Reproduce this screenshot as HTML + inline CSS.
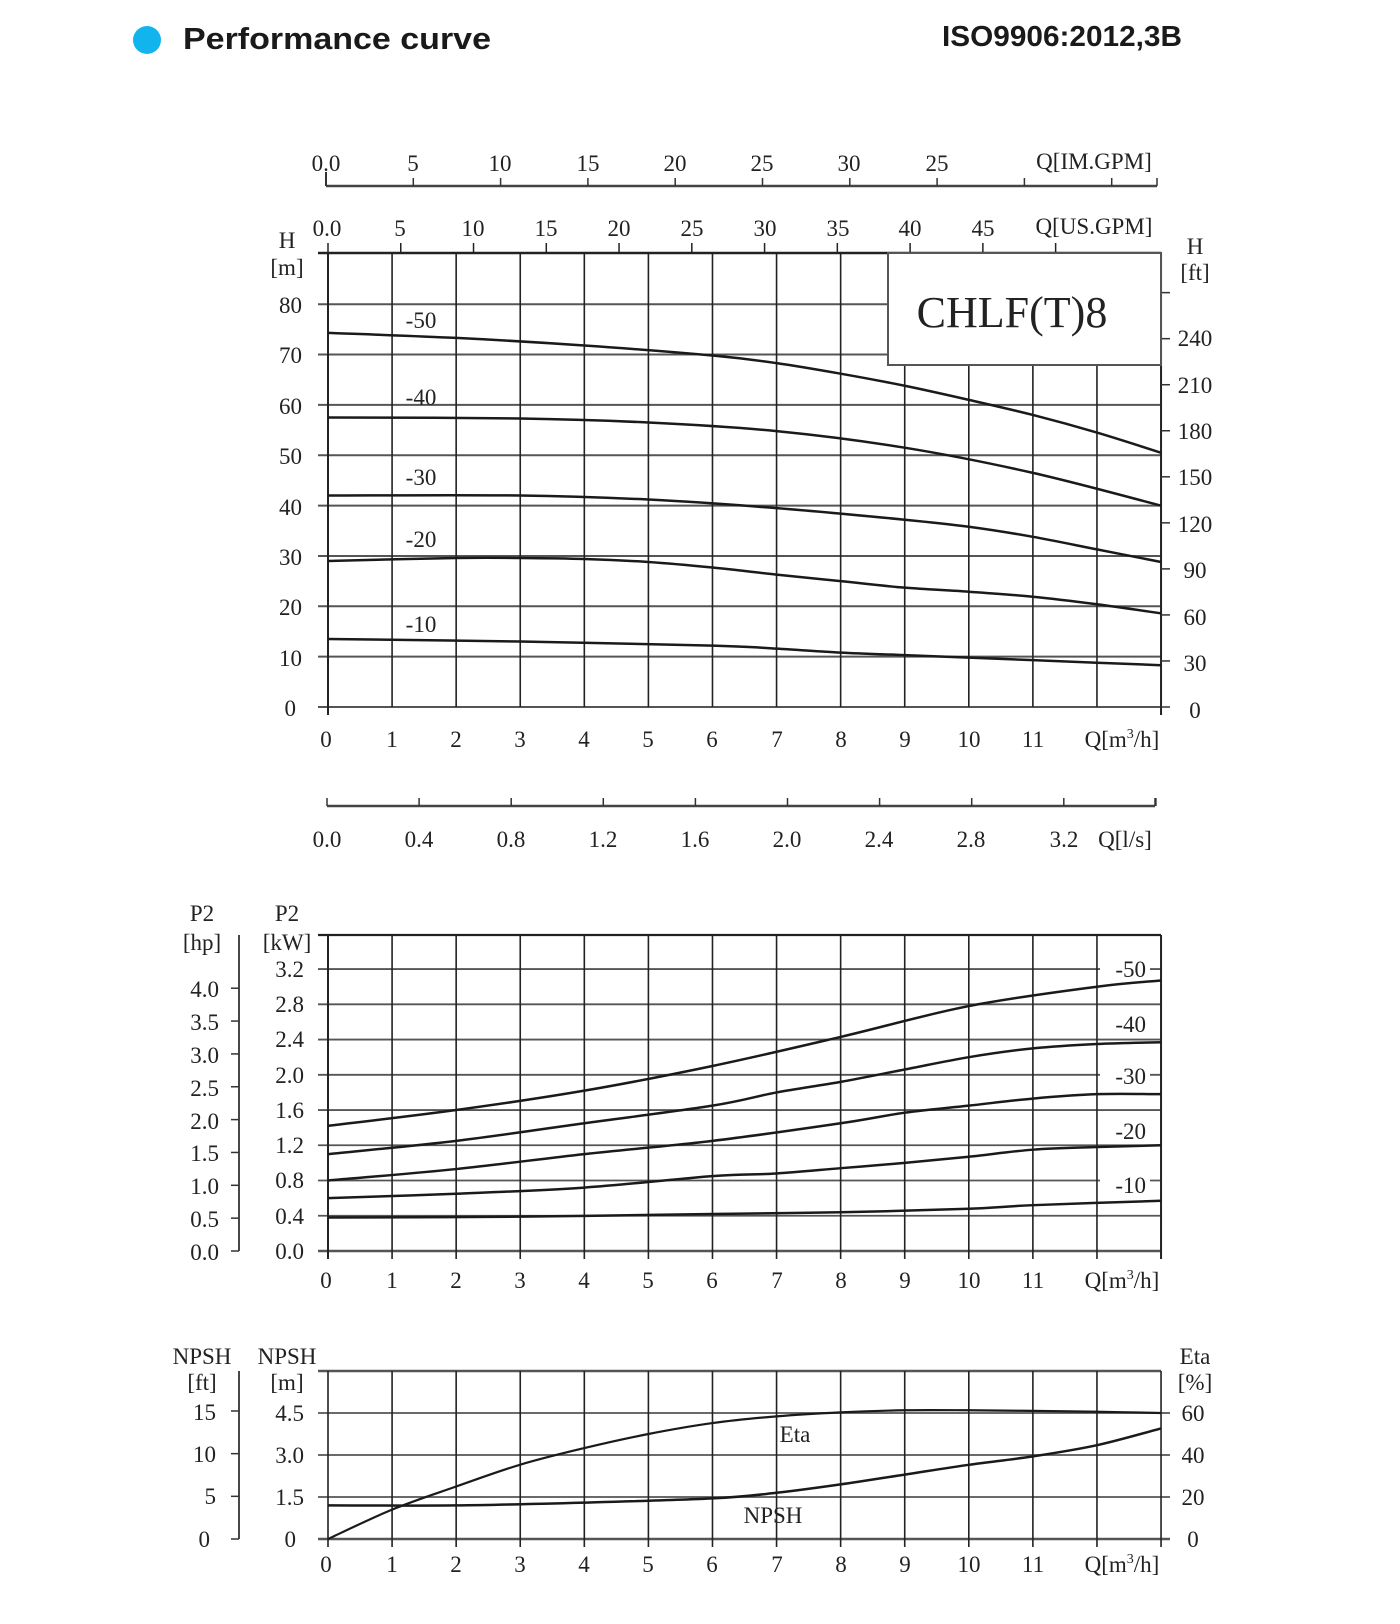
<!DOCTYPE html>
<html><head><meta charset="utf-8"><style>
html,body{margin:0;padding:0;background:#fff;}
svg{display:block;}
.t{font-family:"Liberation Serif",serif;font-size:23px;fill:#222;}
.h{font-family:"Liberation Sans",sans-serif;font-weight:bold;fill:#1a1a1a;}
</style></head><body>
<svg width="1400" height="1624" viewBox="0 0 1400 1624" xmlns="http://www.w3.org/2000/svg">
<circle cx="147" cy="40" r="14" fill="#12b4ee"/>
<text class="h" x="183" y="49" font-size="31" textLength="308" lengthAdjust="spacingAndGlyphs">Performance curve</text>
<text class="h" x="942" y="46" font-size="29" textLength="240" lengthAdjust="spacingAndGlyphs">ISO9906:2012,3B</text>

<g stroke="#444" stroke-width="2.5"><line x1="326" y1="186" x2="1157" y2="186"/></g>
<g id="imt" stroke="#333" stroke-width="1.5"></g>
<g class="t" text-anchor="middle">
<text x="326" y="171">0.0</text><text x="413" y="171">5</text><text x="500" y="171">10</text><text x="588" y="171">15</text><text x="675" y="171">20</text><text x="762" y="171">25</text><text x="849" y="171">30</text><text x="937" y="171">25</text><text x="1094" y="169">Q[IM.GPM]</text>
</g>
<g class="t" text-anchor="middle">
<text x="327" y="236">0.0</text><text x="400" y="236">5</text><text x="473" y="236">10</text><text x="546" y="236">15</text><text x="619" y="236">20</text><text x="692" y="236">25</text><text x="765" y="236">30</text><text x="838" y="236">35</text><text x="910" y="236">40</text><text x="983" y="236">45</text><text x="1094" y="234">Q[US.GPM]</text>
</g>
<g id="grid" ></g>
<rect x="888" y="253" width="273" height="112" fill="#fff" stroke="#555" stroke-width="2"/>
<text x="1012" y="327" text-anchor="middle" font-family="Liberation Serif,serif" font-size="44" fill="#222">CHLF(T)8</text>
<g id="curves" fill="none" stroke="#1a1a1a" stroke-width="2.5"></g>

<g class="t" text-anchor="middle"><text x="287" y="248">H</text><text x="287" y="275">[m]</text>
<text x="1195" y="254">H</text><text x="1195" y="280">[ft]</text></g>
<g class="t" text-anchor="end">
<text x="302" y="313">80</text><text x="302" y="363">70</text><text x="302" y="414">60</text><text x="302" y="464">50</text><text x="302" y="515">40</text><text x="302" y="565">30</text><text x="302" y="615">20</text><text x="302" y="666">10</text><text x="296" y="716">0</text>
</g>
<g class="t" text-anchor="middle">
<text x="1195" y="346">240</text><text x="1195" y="393">210</text><text x="1195" y="439">180</text><text x="1195" y="485">150</text><text x="1195" y="532">120</text><text x="1195" y="578">90</text><text x="1195" y="625">60</text><text x="1195" y="671">30</text><text x="1195" y="718">0</text>
</g>
<g class="t" text-anchor="middle">
<text x="421" y="328">-50</text><text x="421" y="405">-40</text><text x="421" y="485">-30</text><text x="421" y="547">-20</text><text x="421" y="632">-10</text>
</g>
<g class="t" text-anchor="middle">
<text x="326" y="747">0</text><text x="392" y="747">1</text><text x="456" y="747">2</text><text x="520" y="747">3</text><text x="584" y="747">4</text><text x="648" y="747">5</text><text x="712" y="747">6</text><text x="777" y="747">7</text><text x="841" y="747">8</text><text x="905" y="747">9</text><text x="969" y="747">10</text><text x="1033" y="747">11</text><text x="1122" y="747">Q[m<tspan font-size="14" dy="-9">3</tspan><tspan dy="9">/h]</tspan></text>
</g>
<line x1="327" y1="806" x2="1155" y2="806" stroke="#444" stroke-width="2.5"/>
<g id="lst" stroke="#333" stroke-width="1.5"></g>
<g class="t" text-anchor="middle">
<text x="327" y="847">0.0</text><text x="419" y="847">0.4</text><text x="511" y="847">0.8</text><text x="603" y="847">1.2</text><text x="695" y="847">1.6</text><text x="787" y="847">2.0</text><text x="879" y="847">2.4</text><text x="971" y="847">2.8</text><text x="1064" y="847">3.2</text><text x="1125" y="847">Q[l/s]</text>
</g>

<g class="t" text-anchor="middle"><text x="202" y="921">P2</text><text x="202" y="950">[hp]</text><text x="287" y="921">P2</text><text x="287" y="950">[kW]</text></g>
<g class="t" text-anchor="end">
<text x="304" y="977">3.2</text><text x="304" y="1012">2.8</text><text x="304" y="1047">2.4</text><text x="304" y="1083">2.0</text><text x="304" y="1118">1.6</text><text x="304" y="1153">1.2</text><text x="304" y="1188">0.8</text><text x="304" y="1224">0.4</text><text x="304" y="1259">0.0</text>
</g>
<g class="t" text-anchor="middle">
<text x="326" y="1288">0</text><text x="392" y="1288">1</text><text x="456" y="1288">2</text><text x="520" y="1288">3</text><text x="584" y="1288">4</text><text x="648" y="1288">5</text><text x="712" y="1288">6</text><text x="777" y="1288">7</text><text x="841" y="1288">8</text><text x="905" y="1288">9</text><text x="969" y="1288">10</text><text x="1033" y="1288">11</text><text x="1122" y="1288">Q[m<tspan font-size="14" dy="-9">3</tspan><tspan dy="9">/h]</tspan></text>
</g>
<g class="t" text-anchor="end">
<text x="219" y="997">4.0</text><text x="219" y="1030">3.5</text><text x="219" y="1063">3.0</text><text x="219" y="1096">2.5</text><text x="219" y="1129">2.0</text><text x="219" y="1161">1.5</text><text x="219" y="1194">1.0</text><text x="219" y="1227">0.5</text><text x="219" y="1260">0.0</text>
</g>
<g class="t" text-anchor="end" id="p2lab">
<rect x="1100" y="955" width="50" height="22" fill="#fff"/><text x="1146" y="977">-50</text>
<rect x="1100" y="1010" width="50" height="22" fill="#fff"/><text x="1146" y="1032">-40</text>
<rect x="1100" y="1062" width="50" height="22" fill="#fff"/><text x="1146" y="1084">-30</text>
<rect x="1100" y="1117" width="50" height="22" fill="#fff"/><text x="1146" y="1139">-20</text>
<rect x="1100" y="1171" width="50" height="22" fill="#fff"/><text x="1146" y="1193">-10</text>
</g>

<g class="t" text-anchor="middle"><text x="202" y="1364">NPSH</text><text x="202" y="1390">[ft]</text><text x="287" y="1364">NPSH</text><text x="287" y="1390">[m]</text><text x="1195" y="1364">Eta</text><text x="1195" y="1390">[%]</text></g>
<g class="t" text-anchor="end">
<text x="216" y="1420">15</text><text x="216" y="1462">10</text><text x="216" y="1504">5</text><text x="210" y="1547">0</text>
<text x="304" y="1421">4.5</text><text x="304" y="1463">3.0</text><text x="304" y="1505">1.5</text><text x="296" y="1547">0</text>
</g>
<g class="t" text-anchor="middle">
<text x="1193" y="1421">60</text><text x="1193" y="1463">40</text><text x="1193" y="1505">20</text><text x="1193" y="1547">0</text>
<text x="795" y="1442">Eta</text><text x="773" y="1523">NPSH</text>
</g>
<g class="t" text-anchor="middle">
<text x="326" y="1572">0</text><text x="392" y="1572">1</text><text x="456" y="1572">2</text><text x="520" y="1572">3</text><text x="584" y="1572">4</text><text x="648" y="1572">5</text><text x="712" y="1572">6</text><text x="777" y="1572">7</text><text x="841" y="1572">8</text><text x="905" y="1572">9</text><text x="969" y="1572">10</text><text x="1033" y="1572">11</text><text x="1122" y="1572">Q[m<tspan font-size="14" dy="-9">3</tspan><tspan dy="9">/h]</tspan></text>
</g>
</svg>
<script>
(function(){
var NS="http://www.w3.org/2000/svg";
function el(p,n,a){var e=document.createElementNS(NS,n);for(var k in a)e.setAttribute(k,a[k]);p.appendChild(e);return e;}
var svg=document.querySelector('svg');
var grid=document.getElementById('grid');
var X=function(q){return 328+q*64.08;};
function L(x1,y1,x2,y2,c,w,p){el(p||grid,'line',{x1:x1,y1:y1,x2:x2,y2:y2,stroke:c,'stroke-width':w});}
var imt=document.getElementById('imt');
for(var i=0;i<=10;i++){var x=326+i*87.3;if(x>1158)break;L(x,186,x,i==0?172:178,'#333',i==0?2:1.5,imt);}
L(1157,186,1157,178,'#333',1.5,imt);
var lst=document.getElementById('lst');
for(var i=0;i<=9;i++){var x=327+i*92.1;if(x>1156)x=1155;L(x,806,x,798,'#333',1.5,lst);}
L(1155,806,1155,798,'#333',1.5,lst);
var Yh=function(v){return 707-v*5.035;};
for(var hh=0;hh<=80;hh+=10)L(318,Yh(hh),1161,Yh(hh),'#555',2);
L(318,253,1161,253,'#222',2.5);
for(var q=0;q<=13;q++)L(X(q),253,X(q),q==0?715:(q==13?715:707),'#222',q==0||q==13?2:1.6);
for(var g=0;g<=50;g+=5){var x=328+g*0.2271*64.08;L(x,253,x,243,'#222',1.5);}
for(var f=0;f<=270;f+=30){var y=707-f*0.3048*5.035;L(1161,y,1170,y,'#333',1.5);}
var Yp=function(p){return 1251-p*88.1;};
for(var k=0;k<=8;k++)L(318,Yp(k*0.4),1161,Yp(k*0.4),'#555',k==0?2.5:1.8);
L(318,935,1161,935,'#222',2.2);
for(var q=0;q<=13;q++)L(X(q),935,X(q),1259,'#222',q==0||q==13?2:1.6);
L(239,935,239,1251,'#333',1.8);
for(var k=0;k<=8;k++){var y=1251-k*0.5*0.7457*88.1;L(231,y,239,y,'#333',1.5);}
var Yn=function(n){return 1539-n*28;};
for(var k=0;k<=3;k++)L(318,Yn(k*1.5),1170,Yn(k*1.5),'#555',k==0?2.5:1.8);
L(318,1371,1161,1371,'#555',2.5);
for(var q=0;q<=13;q++)L(X(q),1371,X(q),1547,'#222',1.6);
L(239,1371,239,1539,'#333',1.8);
for(var f=0;f<=15;f+=5){var y=1539-f*0.3048*28;L(231,y,239,y,'#333',1.5);}
var cv=document.getElementById('curves');
function curve(pts,yf,parent,w){
 var P=pts.map(function(p){return [X(p[0]),yf(p[1])];});
 var d='M'+P[0][0].toFixed(1)+','+P[0][1].toFixed(1);
 for(var i=0;i<P.length-1;i++){
  var p0=P[i-1]||P[i],p1=P[i],p2=P[i+1],p3=P[i+2]||p2;
  var c1=[p1[0]+(p2[0]-p0[0])/6,p1[1]+(p2[1]-p0[1])/6];
  var c2=[p2[0]-(p3[0]-p1[0])/6,p2[1]-(p3[1]-p1[1])/6];
  d+=' C'+c1.join(',')+' '+c2.join(',')+' '+p2.join(',');
 }
 el(parent||svg,'path',{d:d,fill:'none',stroke:'#1a1a1a','stroke-width':w||2.5});
}
curve([[0,74.3],[2,73.3],[4,71.8],[6,69.8],[7,68.3],[8,66.2],[9,63.8],[10,61],[11,58],[12,54.5],[13,50.5]],Yh,cv);
curve([[0,57.5],[3,57.3],[5,56.5],[7,54.8],[9,51.5],[11,46.5],[13,40]],Yh,cv);
curve([[0,42],[3,42],[5,41.2],[7,39.5],[9,37.2],[10,35.8],[11,33.8],[12,31.3],[13,28.8]],Yh,cv);
curve([[0,29],[2,29.6],[3,29.6],[4,29.4],[5,28.8],[6,27.7],[7,26.3],[8,25],[9,23.7],[10,22.9],[11,21.9],[12,20.4],[13,18.6]],Yh,cv);
curve([[0,13.5],[3,13],[6,12.2],[7,11.6],[8,10.8],[9,10.3],[10,9.8],[11,9.3],[12,8.8],[13,8.3]],Yh,cv);
curve([[0,1.42],[2,1.6],[4,1.82],[6,2.1],[8,2.43],[10,2.78],[12,3.0],[13,3.07]],Yp,cv);
curve([[0,1.1],[2,1.25],[4,1.45],[6,1.65],[7,1.8],[8,1.92],[9,2.06],[10,2.2],[11,2.3],[12,2.35],[13,2.37]],Yp,cv);
curve([[0,0.8],[2,0.93],[4,1.1],[6,1.25],[8,1.45],[9,1.57],[10,1.65],[11,1.73],[12,1.78],[13,1.78]],Yp,cv);
curve([[0,0.6],[2,0.65],[4,0.72],[6,0.85],[7,0.88],[8,0.94],[9,1.0],[10,1.07],[11,1.15],[12,1.18],[13,1.2]],Yp,cv);
curve([[0,0.38],[3,0.39],[6,0.42],[8,0.44],[10,0.48],[11,0.52],[13,0.57]],Yp,cv);
curve([[0,1.2],[2,1.2],[4,1.3],[6,1.45],[7,1.65],[8,1.95],[9,2.3],[10,2.65],[11,2.95],[12,3.35],[13,3.95]],Yn,cv);
var Ye=function(e){return 1539-e*2.1;};
curve([[0,0],[1,14],[2,25],[3,35.4],[4,43.3],[5,50],[6,55.2],[7,58.4],[8,60.3],[9,61.3],[10,61.3],[11,61],[12,60.6],[13,60]],Ye,cv,2.2);
svg.appendChild(document.getElementById('p2lab'));
})();
</script>
</body></html>
